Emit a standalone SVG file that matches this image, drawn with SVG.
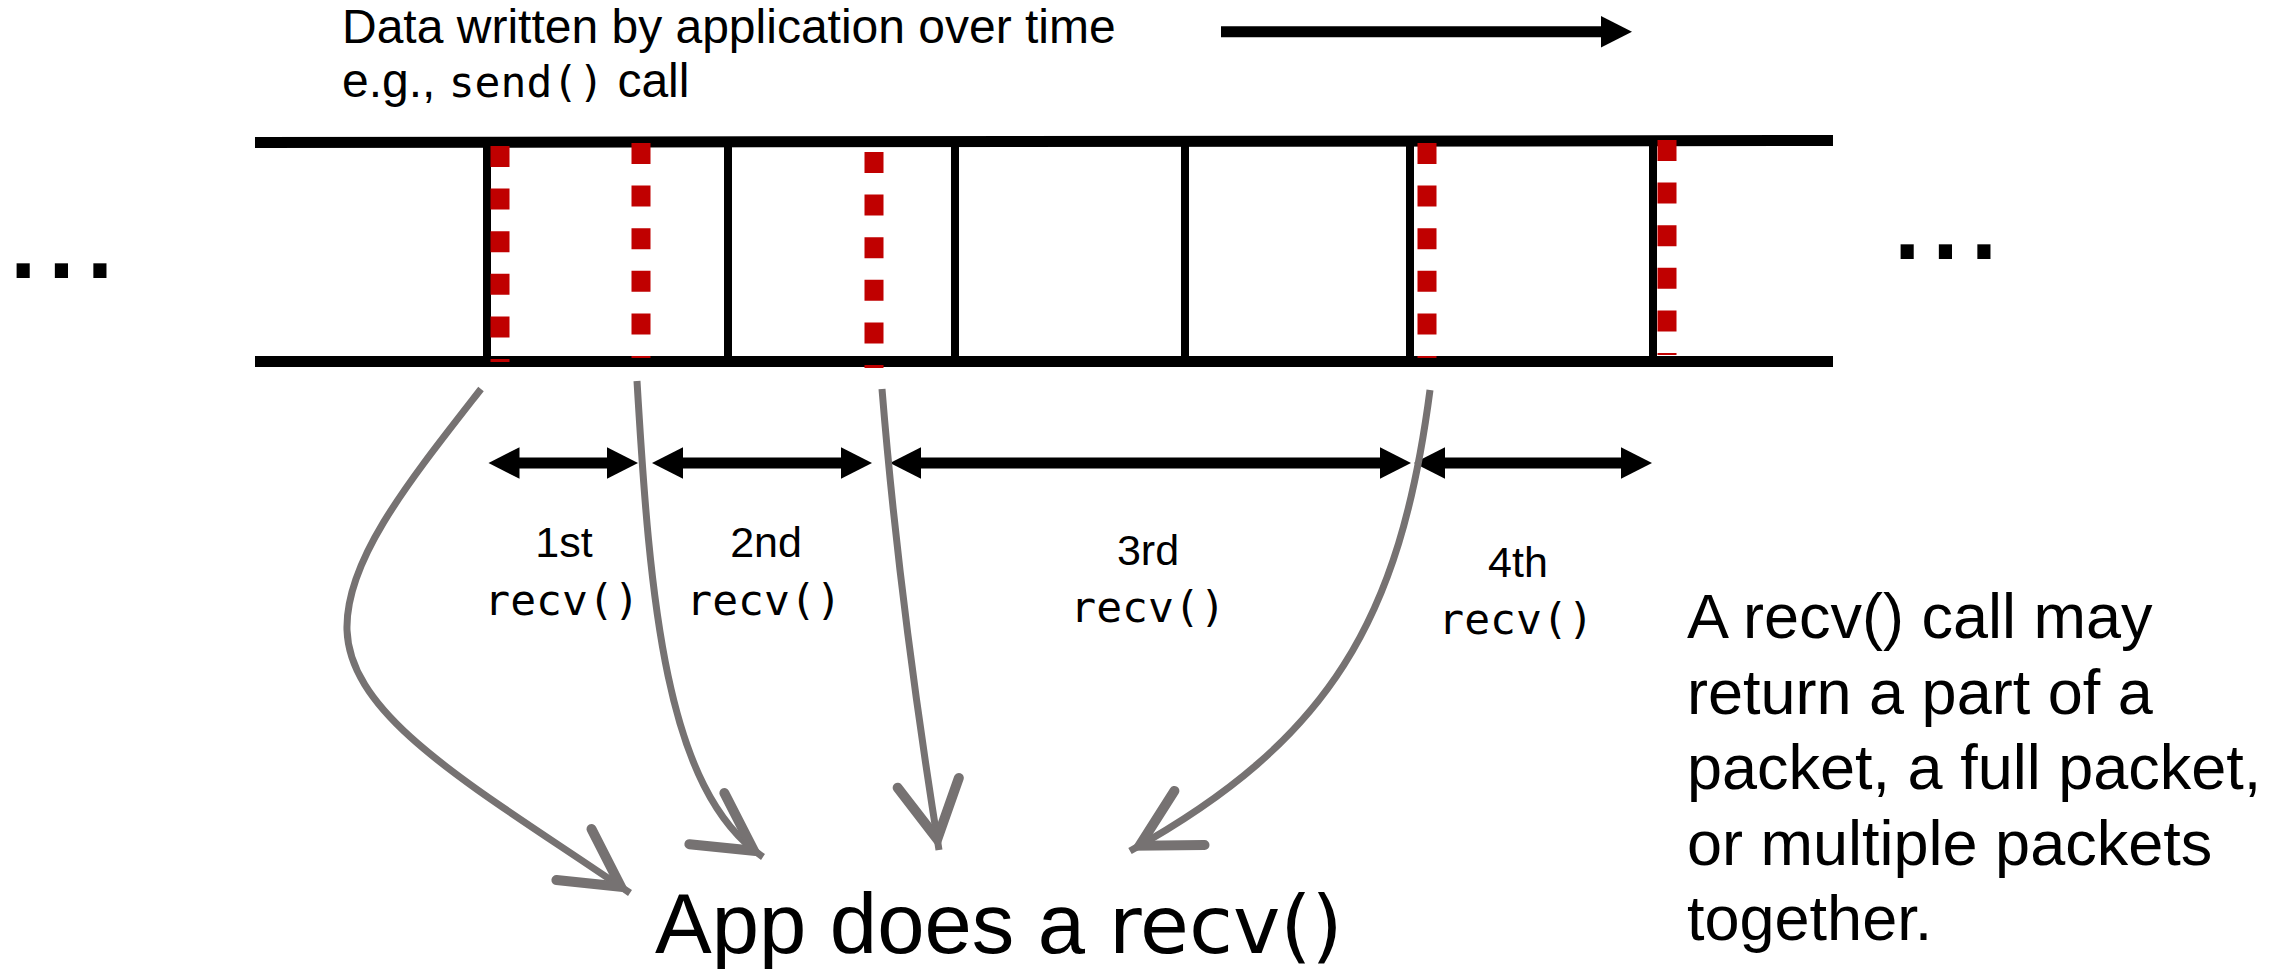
<svg xmlns="http://www.w3.org/2000/svg" width="2287" height="969" viewBox="0 0 2287 969">
<style>
.sans{font-family:"Liberation Sans",Arial,sans-serif;fill:#000}
.mono{font-family:"DejaVu Sans Mono","Liberation Mono",monospace;fill:#000}
.code{font-family:"DejaVu Sans","Liberation Sans",sans-serif;fill:#000}
.rail{stroke:#000;stroke-width:11;fill:none}
.sep{stroke:#000;stroke-width:8;fill:none}
.red{stroke:#c00000;stroke-width:19;fill:none;stroke-dasharray:21 21.6}
.span{stroke:#000;stroke-width:11;fill:none;marker-start:url(#tri);marker-end:url(#tri)}
.curve{stroke:#767272;stroke-width:7;fill:none;marker-end:url(#vhead)}
</style>
<defs>
<marker id="tri" markerUnits="userSpaceOnUse" orient="auto-start-reverse" refX="1" refY="0" markerWidth="40" markerHeight="40" viewBox="0 -20 40 40" overflow="visible">
<path d="M0,-15.7 L31,0 L0,15.7 Z" fill="#000"/>
</marker>
<marker id="vhead" markerUnits="userSpaceOnUse" orient="auto" refX="0" refY="0" markerWidth="100" markerHeight="100" viewBox="-90 -50 100 100" overflow="visible">
<path d="M-68,-31 L-11,0 L-68,31" fill="none" stroke="#767272" stroke-width="10" stroke-linecap="round" stroke-linejoin="miter"/>
</marker>
</defs>
<rect width="2287" height="969" fill="#fff"/>

<g id="title">
<text class="sans" x="342" y="42.5" font-size="48">Data written by application over time</text>
<text class="sans" x="342" y="97" font-size="48">e.g., <tspan class="mono" font-size="43">send()</tspan> call</text>
</g>

<g id="time-arrow">
<line x1="1221" y1="31.7" x2="1602" y2="31.7" stroke="#000" stroke-width="11"/>
<path d="M1601,16 L1632,31.7 L1601,47.5 Z" fill="#000"/>
</g>

<g id="ellipsis-left">
<text class="sans" x="4" y="278" font-size="138">...</text>
</g>
<g id="ellipsis-right">
<text class="sans" x="1888" y="259" font-size="138">...</text>
</g>

<g id="byte-stream">
<line class="rail" x1="255" y1="142.5" x2="1833" y2="140.5"/>
<line class="rail" x1="255" y1="361.5" x2="1833" y2="361.5"/>
<line class="sep" x1="487" y1="142" x2="487" y2="361"/>
<line class="sep" x1="728" y1="142" x2="728" y2="361"/>
<line class="sep" x1="955" y1="142" x2="955" y2="361"/>
<line class="sep" x1="1185" y1="141" x2="1185" y2="361"/>
<line class="sep" x1="1410" y1="141" x2="1410" y2="361"/>
<line class="sep" x1="1653" y1="141" x2="1653" y2="361"/>
</g>

<g id="recv-boundaries">
<line class="red" x1="500" y1="146" x2="500" y2="362"/>
<line class="red" x1="641" y1="143" x2="641" y2="358"/>
<line class="red" x1="874" y1="152" x2="874" y2="368"/>
<line class="red" x1="1427" y1="143" x2="1427" y2="358"/>
<line class="red" x1="1667" y1="140" x2="1667" y2="355"/>
</g>

<g id="recv-spans">
<line class="span" x1="518.5" y1="463" x2="608" y2="463"/>
<line class="span" x1="682" y1="463" x2="842" y2="463"/>
<line class="span" x1="920" y1="463" x2="1381" y2="463"/>
<line class="span" x1="1444" y1="463" x2="1622" y2="463"/>
</g>

<g id="label-1st">
<text class="sans" x="564" y="557" font-size="43" text-anchor="middle">1st</text>
<text class="mono" x="562" y="615" font-size="43" text-anchor="middle">recv()</text>
</g>
<g id="label-2nd">
<text class="sans" x="766" y="557" font-size="43" text-anchor="middle">2nd</text>
<text class="mono" x="764" y="615" font-size="43" text-anchor="middle">recv()</text>
</g>
<g id="label-3rd">
<text class="sans" x="1148" y="565" font-size="43" text-anchor="middle">3rd</text>
<text class="mono" x="1148" y="622" font-size="43" text-anchor="middle">recv()</text>
</g>
<g id="label-4th">
<text class="sans" x="1518" y="577" font-size="43" text-anchor="middle">4th</text>
<text class="mono" x="1516" y="634" font-size="43" text-anchor="middle">recv()</text>
</g>

<g id="connectors">
<path class="curve" d="M481,389 C410,480 345,560 347,630 C350,720 480,790 630,893"/>
<path class="curve" d="M637,381 C650,600 665,790 763,857"/>
<path class="curve" d="M882,389 C895,550 915,700 939,850"/>
<path class="curve" d="M1430,390 C1400,620 1330,740 1130,851"/>
</g>

<g id="app-recv">
<text class="sans" x="655" y="953" font-size="85">App does a <tspan class="code" font-size="80">recv()</tspan></text>
</g>

<g id="note">
<text class="sans" font-size="63">
<tspan x="1687" y="638">A recv() call may</tspan>
<tspan x="1687" y="714">return a part of a</tspan>
<tspan x="1687" y="789">packet, a full packet,</tspan>
<tspan x="1687" y="865">or multiple packets</tspan>
<tspan x="1687" y="940">together.</tspan>
</text>
</g>
</svg>
